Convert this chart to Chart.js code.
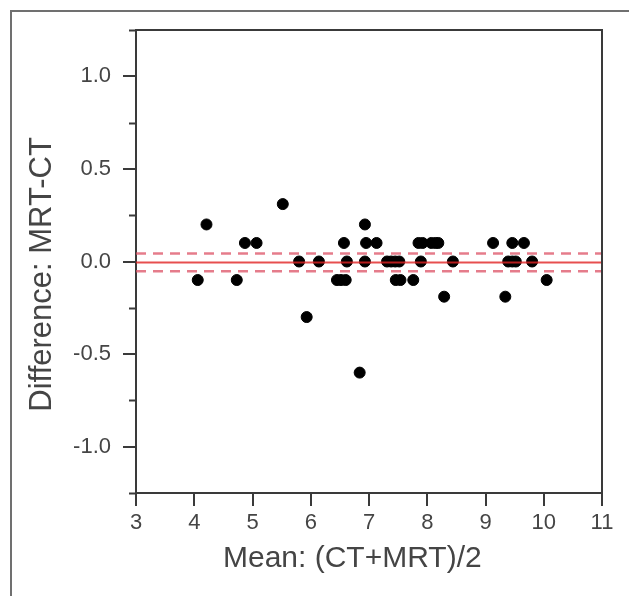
<!DOCTYPE html>
<html>
<head>
<meta charset="utf-8">
<script src="https://cdn.jsdelivr.net/npm/chart.js@4/dist/chart.umd.min.js"></script>
<style>
  html, body { margin: 0; padding: 0; background: #fff; }
  #wrap { position: relative; width: 629px; height: 596px; overflow: hidden; }
  #frame { position: absolute; left: 10px; top: 10px; width: 700px; height: 700px;
           border-left: 2px solid #707070; border-top: 2px solid #707070; }
  canvas { position: absolute; left: 0; top: 0; }
</style>
</head>
<body>
<div id="wrap">
  <canvas id="ba-chart" width="629" height="596"></canvas>
  <div id="frame"></div>
</div>
<script>
// Bland-Altman data
const meanVals = [4.06, 4.21, 4.73, 4.87, 5.07, 5.52, 5.80, 5.93, 6.14, 6.45,
                  6.52, 6.60, 6.57, 6.62, 6.84, 6.93, 6.95, 6.93, 7.13, 7.31,
                  7.38, 7.45, 7.52, 7.46, 7.54, 7.76, 7.85, 7.92, 7.89, 8.07,
                  8.14, 8.19, 8.29, 8.44, 9.13, 9.34, 9.39, 9.46, 9.52, 9.46,
                  9.66, 9.80, 10.05];
const diffVals = [-0.1, 0.2, -0.1, 0.1, 0.1, 0.31, 0, -0.3, 0, -0.1,
                  -0.1, -0.1, 0.1, 0, -0.6, 0.2, 0.1, 0, 0.1, 0,
                  0, 0, 0, -0.1, -0.1, -0.1, 0.1, 0.1, 0, 0.1,
                  0.1, 0.1, -0.19, 0, 0.1, -0.19, 0, 0, 0, 0.1,
                  0.1, 0, -0.1];

const biasMean = -0.005;
const biasUpper = 0.043;
const biasLower = -0.053;

const xTicks = [3, 4, 5, 6, 7, 8, 9, 10, 11];
const yTicks = [-1.0, -0.5, 0.0, 0.5, 1.0];
const yMinorTicks = [-1.25, -0.75, -0.25, 0.25, 0.75, 1.25];

const xMin = 3, xMax = 11;
const yMin = -1.25, yMax = 1.25;

const points = meanVals.map((m, i) => ({ x: m, y: diffVals[i] }));
const hline = v => [{ x: xMin, y: v }, { x: xMax, y: v }];

const axisColor = '#3a3a3a';
const textColor = '#454545';
const fontFamily = '"Liberation Sans", Arial, sans-serif';

// box around plot + short minor ticks on y axis
const boxPlugin = {
    id: 'boxPlugin',
    afterDraw(chart) {
        const ctx = chart.ctx;
        const a = chart.chartArea;
        const ys = chart.scales.y;
        ctx.save();
        ctx.strokeStyle = axisColor;
        ctx.lineWidth = 2;
        ctx.beginPath();
        ctx.moveTo(a.left, a.top);
        ctx.lineTo(a.right, a.top);
        ctx.lineTo(a.right, a.bottom);
        ctx.stroke();
        ctx.beginPath();
        yMinorTicks.forEach(v => {
            const py = Math.round(ys.getPixelForValue(v)) + 0.5;
            ctx.moveTo(a.left - 7, py);
            ctx.lineTo(a.left, py);
        });
        ctx.stroke();
        ctx.restore();
    }
};

function createChart() {
    const ctx = document.getElementById('ba-chart').getContext('2d');
    new Chart(ctx, {
        type: 'scatter',
        data: {
            datasets: [
                {
                    label: 'Bias',
                    type: 'line',
                    data: hline(biasMean),
                    borderColor: 'rgba(225, 35, 35, 0.8)',
                    borderWidth: 2,
                    pointRadius: 0,
                    order: 0
                },
                {
                    label: 'Upper',
                    type: 'line',
                    data: hline(biasUpper),
                    borderColor: 'rgba(220, 80, 100, 0.75)',
                    borderWidth: 2.5,
                    borderDash: [10, 7],
                    pointRadius: 0,
                    order: 0
                },
                {
                    label: 'Lower',
                    type: 'line',
                    data: hline(biasLower),
                    borderColor: 'rgba(220, 80, 100, 0.75)',
                    borderWidth: 2.5,
                    borderDash: [10, 7],
                    pointRadius: 0,
                    order: 0
                },
                {
                    label: 'Differences',
                    data: points,
                    backgroundColor: '#000',
                    borderColor: '#000',
                    pointRadius: 5.5,
                    order: 1
                }
            ]
        },
        options: {
            responsive: false,
            animation: false,
            layout: { padding: { left: 0, top: 30, right: 27, bottom: 0 } },
            plugins: { legend: { display: false }, tooltip: { enabled: false } },
            scales: {
                x: {
                    type: 'linear',
                    min: xMin,
                    max: xMax,
                    afterBuildTicks: axis => { axis.ticks = xTicks.map(v => ({ value: v })); },
                    afterFit: axis => { axis.height = 103; },
                    grid: { drawOnChartArea: false, drawTicks: true, tickLength: 13, color: axisColor, lineWidth: 2 },
                    border: { display: true, color: axisColor, width: 2 },
                    ticks: { color: textColor, font: { family: fontFamily, size: 22 }, padding: 4, maxRotation: 0 },
                    title: {
                        display: true,
                        text: 'Mean: (CT+MRT)/2\u00a0\u00a0\u00a0\u00a0',
                        color: textColor,
                        font: { family: fontFamily, size: 30 },
                        padding: { top: 0, bottom: 19 }
                    }
                },
                y: {
                    type: 'linear',
                    min: yMin,
                    max: yMax,
                    afterBuildTicks: axis => { axis.ticks = yTicks.map(v => ({ value: v })); },
                    afterFit: axis => { axis.width = 136; },
                    grid: { drawOnChartArea: false, drawTicks: true, tickLength: 13, color: axisColor, lineWidth: 2 },
                    border: { display: true, color: axisColor, width: 2 },
                    ticks: {
                        color: textColor,
                        font: { family: fontFamily, size: 22 },
                        padding: 12,
                        callback: v => v.toFixed(1)
                    },
                    title: {
                        display: true,
                        text: 'Difference: MRT-CT\u00a0\u00a0\u00a0',
                        color: textColor,
                        font: { family: fontFamily, size: 31 },
                        padding: { top: 24, bottom: 0 }
                    }
                }
            }
        },
        plugins: [boxPlugin]
    });
}

document.addEventListener('DOMContentLoaded', createChart);
</script>
</body>
</html>
